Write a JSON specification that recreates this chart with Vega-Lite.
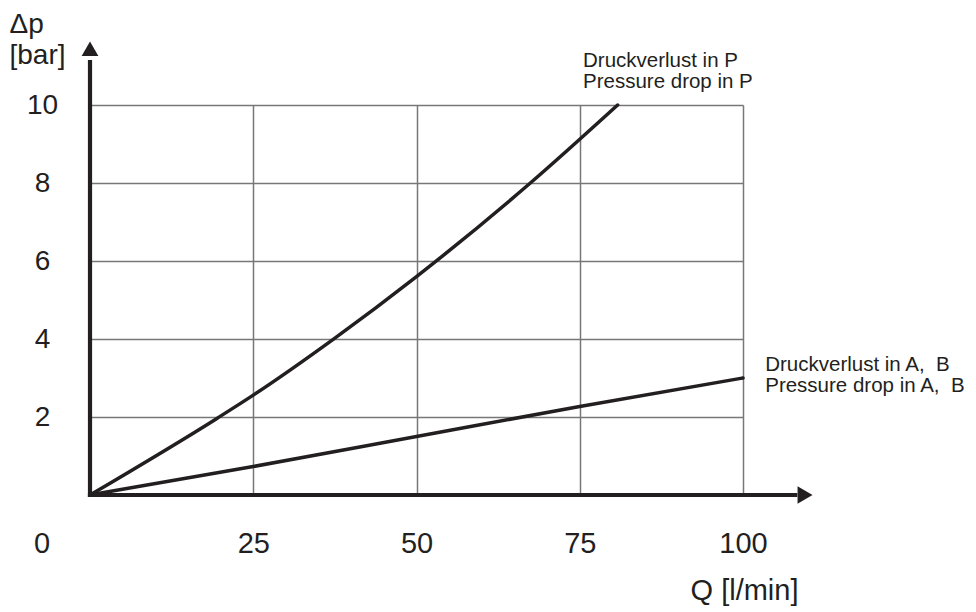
{
  "$schema": "https://vega.github.io/schema/vega-lite/v6.json",
  "width": 653,
  "height": 390,
  "autosize": "none",
  "padding": {"left": 90, "top": 105, "right": 233, "bottom": 117},
  "background": "white",
  "config": {"view": {"stroke": null}, "font": "Liberation Sans"},
  "datasets": {
    "curves": [
      {"series": "P", "q": 0, "dp": 0},
      {"series": "P", "q": 19.5, "dp": 1.97},
      {"series": "P", "q": 25, "dp": 2.56},
      {"series": "P", "q": 37.4, "dp": 4.01},
      {"series": "P", "q": 50, "dp": 5.6},
      {"series": "P", "q": 67.3, "dp": 7.98},
      {"series": "P", "q": 80.8, "dp": 10},
      {"series": "AB", "q": 0, "dp": 0},
      {"series": "AB", "q": 25, "dp": 0.73},
      {"series": "AB", "q": 50, "dp": 1.5},
      {"series": "AB", "q": 75, "dp": 2.27},
      {"series": "AB", "q": 100, "dp": 3.0}
    ],
    "axisLines": [
      {"q": 0, "dp": 0, "q2": 108, "dp2": 0},
      {"q": 0, "dp": 0, "q2": 0, "dp2": 11.1}
    ],
    "labels": [
      {"q": 75.5, "dp": 10.97, "label": "Druckverlust in P\nPressure drop in P"},
      {"q": 103.4, "dp": 3.17, "label": "Druckverlust in A,\u00a0 B\nPressure drop in A,\u00a0 B"}
    ]
  },
  "encoding": {
    "x": {
      "field": "q",
      "type": "quantitative",
      "scale": {"domain": [0, 100], "nice": false, "zero": false},
      "axis": {
        "values": [0, 25, 50, 75, 100],
        "ticks": false,
        "domain": false,
        "labelAlign": "center",
        "labelBaseline": "middle",
        "labelPadding": 48,
        "labelFontSize": 29,
        "labelColor": "#231f20",
        "labelOffset": {"condition": {"test": "datum.value === 0", "value": -48.5}, "value": 0},
        "gridColor": "#777777",
        "gridWidth": 1.5,
        "title": "Q [l/min]",
        "titleFontSize": 29,
        "titleFontWeight": "normal",
        "titleColor": "#231f20",
        "titleAlign": "center",
        "titleBaseline": "alphabetic",
        "titleX": 654,
        "titleY": 104
      }
    },
    "y": {
      "field": "dp",
      "type": "quantitative",
      "scale": {"domain": [0, 10], "nice": false, "zero": false},
      "axis": {
        "values": [2, 4, 6, 8, 10],
        "ticks": false,
        "domain": false,
        "labelAlign": "center",
        "labelBaseline": "middle",
        "labelPadding": 48,
        "labelFontSize": 28,
        "labelColor": "#231f20",
        "gridColor": "#777777",
        "gridWidth": 1.5,
        "title": ["Δp", "[bar]"],
        "titleAngle": 0,
        "titleFontSize": 28,
        "titleFontWeight": "normal",
        "titleColor": "#231f20",
        "titleAlign": "left",
        "titleBaseline": "alphabetic",
        "titleLineHeight": 31,
        "titleX": -81,
        "titleY": -73
      }
    }
  },
  "layer": [
    {
      "data": {"name": "curves"},
      "mark": {"type": "line", "color": "#231f20", "strokeWidth": 3.5, "interpolate": "monotone", "strokeCap": "round"},
      "encoding": {"detail": {"field": "series", "type": "nominal"}}
    },
    {
      "data": {"name": "axisLines"},
      "mark": {"type": "rule", "color": "#231f20", "strokeWidth": 4.2, "strokeCap": "square"},
      "encoding": {
        "x2": {"field": "q2"},
        "y2": {"field": "dp2"}
      }
    },
    {
      "data": {"values": [{"q": 0, "dp": 11.44}]},
      "mark": {"type": "point", "shape": "triangle-up", "filled": true, "color": "#231f20", "size": 280, "opacity": 1}
    },
    {
      "data": {"values": [{"q": 109.5, "dp": 0}]},
      "mark": {"type": "point", "shape": "triangle-right", "filled": true, "color": "#231f20", "size": 300, "opacity": 1}
    },
    {
      "data": {"name": "labels"},
      "mark": {"type": "text", "align": "left", "baseline": "alphabetic", "fontSize": 20.5, "lineHeight": 21, "lineBreak": "\n", "color": "#231f20"},
      "encoding": {"text": {"field": "label", "type": "nominal"}}
    }
  ]
}
